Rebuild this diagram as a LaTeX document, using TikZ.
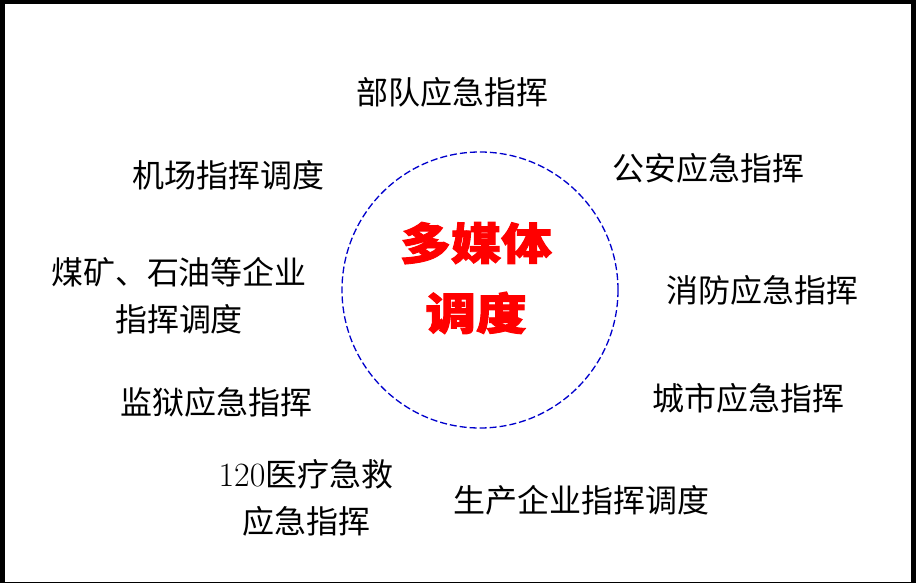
\documentclass[tikz,border=0pt]{standalone}
\usepackage{fontspec}
\newfontfamily\cjk{Noto Sans CJK SC}
\newfontfamily\cjkheavy[FakeBold=2]{Noto Sans CJK SC}
\usetikzlibrary{positioning}

\begin{document}
\begin{tikzpicture}[x=1pt, y=-1pt,
    unit/.style={font=\cjk\fontsize{32}{47}\selectfont, align=center, inner sep=0pt},
    hub/.style={font=\cjkheavy\bfseries\fontsize{44}{70}\selectfont, text=red, align=center, xscale=1.15}]
    % Frame
    \fill[black] (0,0) rectangle (916,583);
    \fill[white] (5,4) rectangle (911,582);
    \useasboundingbox (0,0) rectangle (916,583);

    % Centre
    \node[draw=blue!80!black, dash pattern=on 7pt off 3pt, circle, minimum size=276pt, line width=1.3pt] (Ring) at (480,290) {};
    \node[hub] (Hub) at (476,278) {多媒体\\调度};

    % Units round the centre
    \node[unit] (Army) at (452,92) {部队应急指挥};
    \node[unit] (Police) at (708,168) {公安应急指挥};
    \node[unit] (Airport) at (228,175) {机场指挥调度};
    \node[unit] (Mine) at (179,296) {煤矿、石油等企业\\指挥调度};
    \node[unit] (Fire) at (762,290) {消防应急指挥};
    \node[unit] (Prison) at (216,402) {监狱应急指挥};
    \node[unit] (City) at (748,398) {城市应急指挥};
    \node[unit] (Medic) at (306,498) {{\rmfamily\fontsize{34}{47}\selectfont 120}医疗急救\\应急指挥};
    \node[unit] (Works) at (581,500) {生产企业指挥调度};
\end{tikzpicture}
\end{document}
